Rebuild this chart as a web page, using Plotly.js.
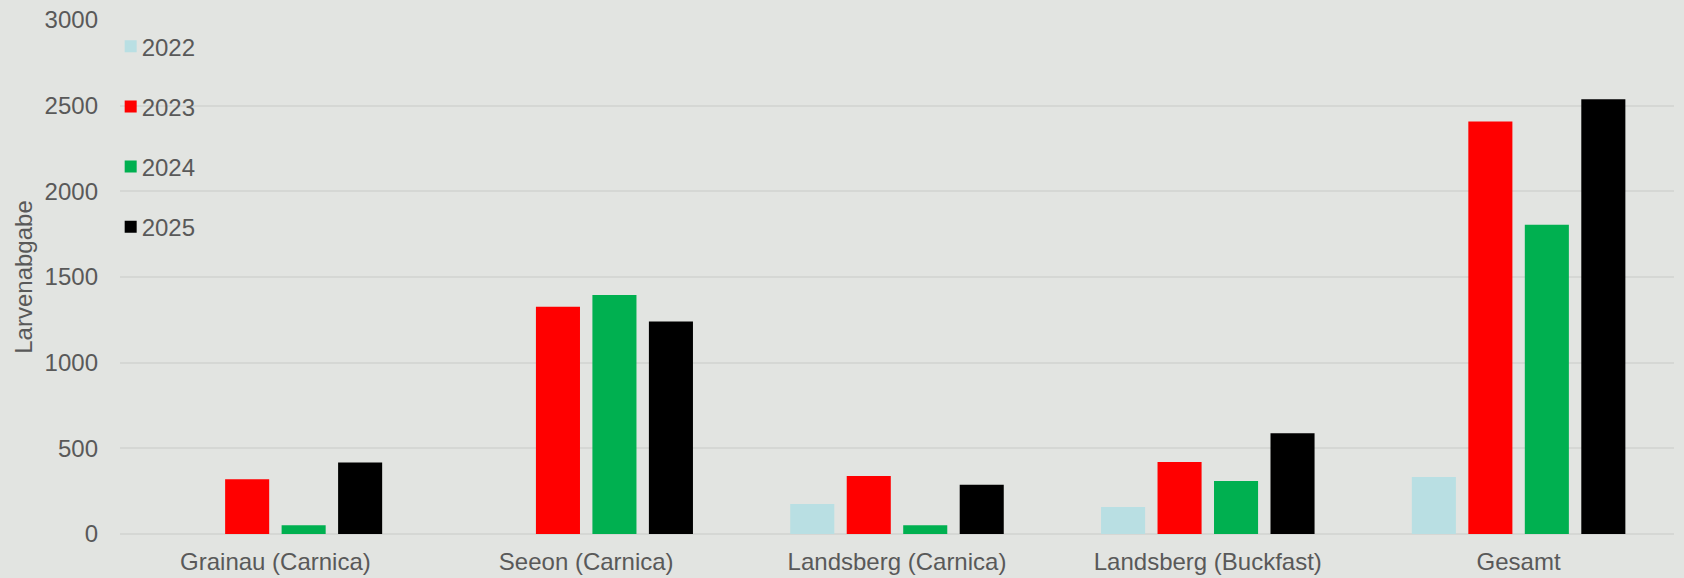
<!DOCTYPE html>
<html>
<head>
<meta charset="utf-8">
<script src="https://cdn.plot.ly/plotly-3.0.1.min.js"></script>
<style>
  html, body { margin: 0; padding: 0; background: #e2e4e1; }
  #chart { width: 1684px; height: 578px; }
  #chart .legend .legendtext { transform: translate(-9px, 0px); }
</style>
</head>
<body>
<div id="chart"></div>
<script>
const categories = ["Grainau (Carnica)", "Seeon (Carnica)", "Landsberg (Carnica)", "Landsberg (Buckfast)", "Gesamt"];
const seriesNames = ["2022", "2023", "2024", "2025"];
const values2022 = [null, null, 175, 158, 333];
const values2023 = [319, 1327, 339, 420, 2408];
const values2024 = [51, 1395, 51, 309, 1805];
const values2025 = [418, 1241, 288, 588, 2537];
const seriesColors = ["#b9dfe3", "#ff0000", "#00b050", "#000000"];
const yTicks = [0, 500, 1000, 1500, 2000, 2500, 3000];

const allValues = [values2022, values2023, values2024, values2025];
const traces = allValues.map((vals, i) => ({
  type: "bar",
  name: seriesNames[i],
  x: categories,
  y: vals,
  legendgroup: "g" + i,
  marker: { color: seriesColors[i], line: { width: 0 } },
  hoverinfo: "x+y+name"
}));

const textColor = "#595959";
const fontFam = "Liberation Sans, Arial, sans-serif";
const fs = 24;

const layout = {
  width: 1684,
  height: 578,
  paper_bgcolor: "#e2e4e1",
  plot_bgcolor: "#e2e4e1",
  margin: { l: 120, r: 10, t: 20, b: 44 },
  barmode: "group",
  bargap: 0.273,
  bargroupgap: 0.22,
  font: { family: fontFam, size: fs, color: textColor },
  showlegend: true,
  legend: {
    x: -0.006, xanchor: "left",
    y: 0.992, yanchor: "top",
    bgcolor: "rgba(0,0,0,0)",
    traceorder: "grouped",
    tracegroupgap: 26,
    font: { family: fontFam, size: fs, color: textColor }
  },
  xaxis: {
    type: "category",
    showgrid: false,
    showline: false,
    zeroline: false,
    ticks: "",
    ticklabelstandoff: 11,
    tickfont: { family: fontFam, size: fs, color: textColor }
  },
  yaxis: {
    range: [0, 3000],
    tickvals: yTicks,
    ticktext: yTicks.map(String),
    showgrid: true,
    gridcolor: "#d5d7d4",
    gridwidth: 2,
    zeroline: true,
    zerolinecolor: "#d5d7d4",
    zerolinewidth: 2,
    showline: false,
    ticks: "",
    ticklabelstandoff: 21,
    tickfont: { family: fontFam, size: fs, color: textColor },
    title: { text: "Larvenabgabe", font: { family: fontFam, size: fs, color: textColor }, standoff: 5 }
  }
};

Plotly.newPlot("chart", traces, layout, { displayModeBar: false });
</script>
</body>
</html>
